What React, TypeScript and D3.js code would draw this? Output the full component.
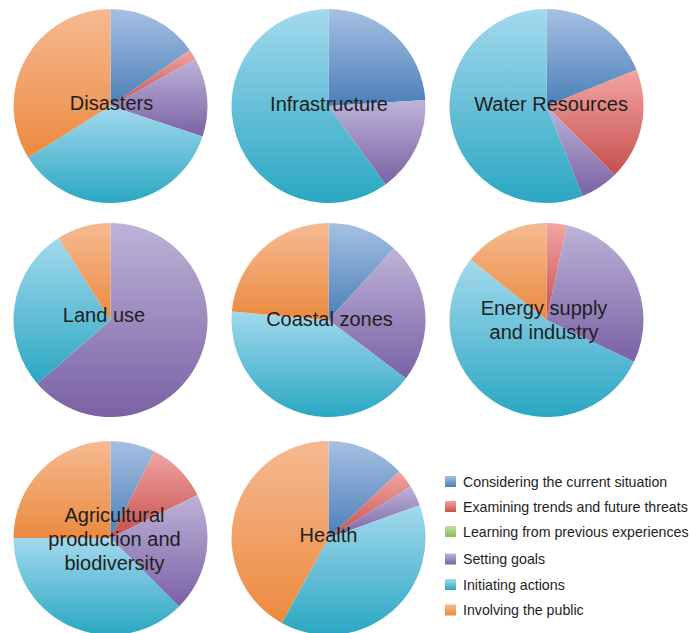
import React from "react";
import * as d3 from "d3";

const seriesNames = [
  "Considering the current situation",
  "Examining trends and future threats",
  "Learning from previous experiences",
  "Setting goals",
  "Initiating actions",
  "Involving the public",
];

const lightColors = ["#a7c0e2", "#f2a4a4", "#c3dfaa", "#bdb3d8", "#a3d9ed", "#f5ba92"];
const darkColors = ["#4a7fb8", "#c4504d", "#8bbb5c", "#7a61a4", "#2aa7c2", "#ec8a3f"];

const sectors = [
  "Disasters",
  "Infrastructure",
  "Water Resources",
  "Land use",
  "Coastal zones",
  "Energy supply\nand industry",
  "Agricultural\nproduction and\nbiodiversity",
  "Health",
];

// values (percent) per series, one array per sector
const disasters = [15.2, 1.8, 0, 13.1, 36.0, 33.9];
const infrastructure = [24.0, 0, 0, 16.0, 60.0, 0];
const waterResources = [18.9, 18.7, 0, 6.3, 56.1, 0];
const landUse = [0, 0, 0, 63.6, 27.4, 9.0];
const coastalZones = [11.8, 0, 0, 23.5, 41.1, 23.6];
const energySupply = [0, 3.4, 0, 28.7, 53.6, 14.3];
const agricultural = [7.5, 10.2, 0, 19.8, 37.5, 25.0];
const health = [13.0, 3.1, 0, 3.4, 38.5, 42.0];

const sectorValues = [
  disasters,
  infrastructure,
  waterResources,
  landUse,
  coastalZones,
  energySupply,
  agricultural,
  health,
];

// label offsets relative to pie centre
const labelOffsets = [
  [1, 4],
  [0.5, 5],
  [4.5, 5],
  [-6.5, 2],
  [1, 5.5],
  [-2.5, -5],
  [4, -16],
  [0, 4],
];

const W = 692;
const H = 633;
const R = 97;
const colX = [110.5, 328.5, 546.5];
const rowY = [106, 320, 538];

export default function App() {
  const pie = d3
    .pie<number>()
    .sort(null)
    .value((d) => d)
    .startAngle(0)
    .endAngle(2 * Math.PI);
  const arc = d3.arc<d3.PieArcDatum<number>>().innerRadius(0).outerRadius(R);
  const font = "'Liberation Sans', Arial, Helvetica, sans-serif";

  return (
    <svg
      width={W}
      height={H}
      style={{ position: "absolute", left: 0, top: 0, display: "block", background: "#fff" }}
    >
      <defs>
        {seriesNames.map((_, i) => (
          <linearGradient key={i} id={`g${i}`} x1="0" y1="0" x2="0" y2="1">
            <stop offset="0%" stopColor={lightColors[i]} />
            <stop offset="100%" stopColor={darkColors[i]} />
          </linearGradient>
        ))}
      </defs>
      {sectors.map((name, si) => {
        const cx = colX[si % 3];
        const cy = rowY[Math.floor(si / 3)];
        const arcs = pie(sectorValues[si]);
        const lines = name.split("\n");
        const [dx, dy] = labelOffsets[si];
        const lh = 24;
        return (
          <g key={si} transform={`translate(${cx},${cy})`}>
            {arcs.map((a, i) =>
              a.value > 0 ? (
                <path key={i} d={arc(a) || ""} fill={`url(#g${i})`} />
              ) : null
            )}
            <text
              fontFamily={font}
              fontSize={20}
              fill="#1e1e1e"
              textAnchor="middle"
              x={dx}
              y={dy}
            >
              {lines.map((l, li) => (
                <tspan key={li} x={dx} dy={li === 0 ? 0 : lh}>
                  {l}
                </tspan>
              ))}
            </text>
          </g>
        );
      })}
      <g transform="translate(445,476)">
        {seriesNames.map((s, i) => {
          const y = [0, 25, 50, 77.5, 103, 128.5][i];
          return (
            <g key={i} transform={`translate(0,${y})`}>
              <rect x={0} y={0} width={11} height={11} fill={`url(#g${i})`} />
              <text x={18} y={10.5} fontFamily={font} fontSize={14.2} fill="#1e1e1e">
                {s}
              </text>
            </g>
          );
        })}
      </g>
    </svg>
  );
}
